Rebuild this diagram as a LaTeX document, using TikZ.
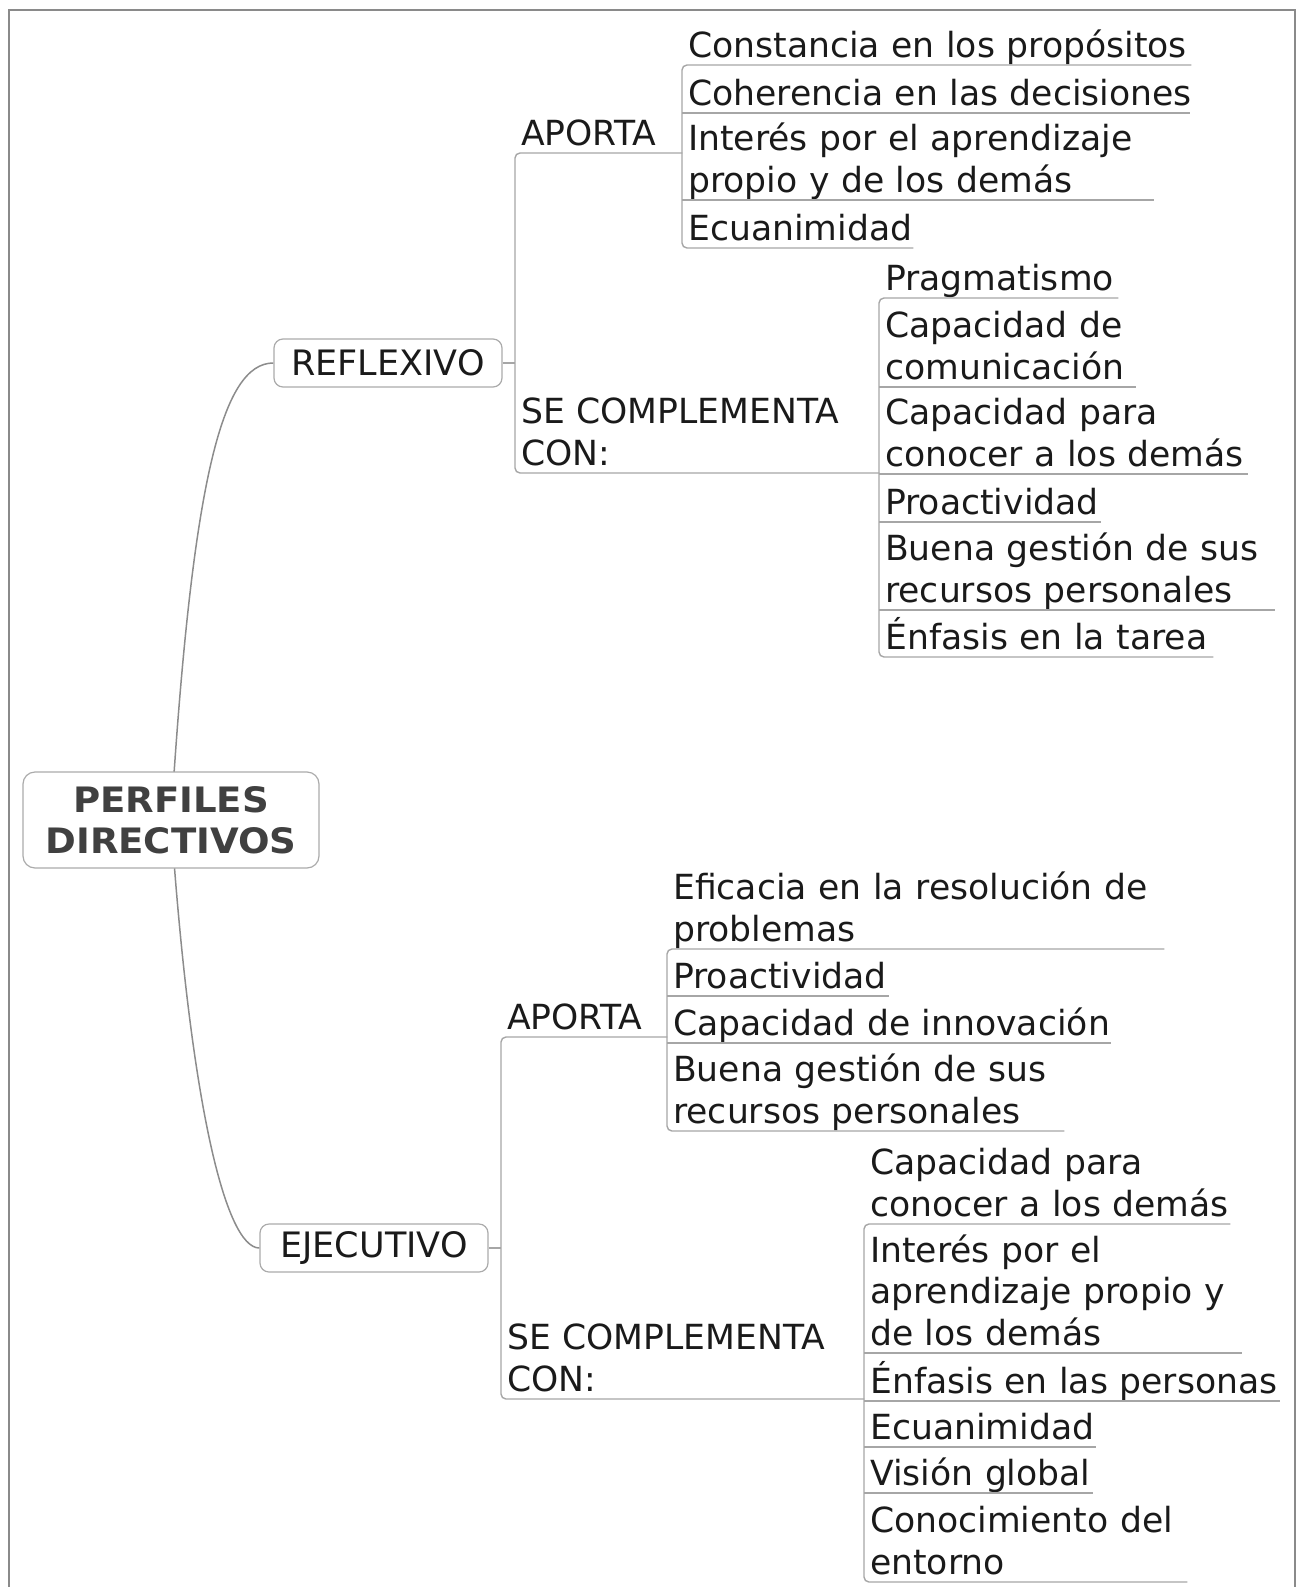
\documentclass[tikz,border=0pt]{standalone}
\usepackage{fontspec}
\setmainfont{DejaVu Sans}
\newfontfamily\rootfont[FakeStretch=1.06]{DejaVu Sans}
\usetikzlibrary{backgrounds}
\definecolor{ink}{HTML}{1A1A1A}
\definecolor{rootc}{HTML}{404040}
\definecolor{linec}{HTML}{A6A6A6}
\definecolor{curvec}{HTML}{8C8C8C}
\definecolor{boxc}{HTML}{ABABAB}
\definecolor{framec}{HTML}{8A8A8A}
\newcommand{\tline}[1]{\mbox{#1}}
\tikzset{
  topic/.style={anchor=south west, inner xsep=6pt, inner ysep=0pt, text depth=7.5pt,
    align=left, font=\fontsize{34.6}{41.5}\selectfont, text=ink},
  twolines/.style={text depth=49pt},
  threelines/.style={text depth=90.5pt},
  mbox/.style={draw=boxc, rounded corners=9pt, fill=white, line width=1.2pt,
    inner sep=0pt, align=center, font=\fontsize{35}{41.5}\selectfont, text=ink},
  conn/.style={draw=linec, line width=1.4pt},
  bracket/.style={conn, rounded corners=5pt},
  curve/.style={draw=curvec, line width=1.5pt},
  frameline/.style={draw=framec, line width=2pt}
}
\begin{document}
\begin{tikzpicture}[x=1pt, y=-1pt]
\useasboundingbox (0,0) rectangle (1302,1587);
\draw[frameline] (9,1587) -- (9,10) -- (1295,10) -- (1295,1587);

% central and main topics
\node[mbox, minimum width=296pt, minimum height=96pt, rounded corners=12pt,
      font=\rootfont\fontsize{35}{41.5}\selectfont\bfseries, text=rootc] (root) at (171,820) {PERFILES\\DIRECTIVOS};
\node[mbox, minimum width=228pt, minimum height=48pt] (refl) at (388,363) {\raisebox{-1.5pt}{REFLEXIVO}};
\node[mbox, minimum width=228pt, minimum height=48pt] (ejec) at (374,1248) {\raisebox{-1.5pt}{EJECUTIVO}};

% REFLEXIVO branch
\node[topic, text width=155pt] (rap) at (515,153) {\tline{APORTA}};
\node[topic, twolines, text width=352pt] (rse) at (515,473) {\tline{SE COMPLEMENTA}\\\tline{CON:}};
\node[topic, text width=497pt] (r1) at (682,65) {\tline{Constancia en los propósitos}};
\node[topic, text width=496pt] (r2) at (682,113) {\tline{Coherencia en las decisiones}};
\node[topic, twolines, text width=460pt] (r3) at (682,200) {\tline{Interés por el aprendizaje}\\\tline{propio y de los demás}};
\node[topic, text width=219pt] (r4) at (682,248) {\tline{Ecuanimidad}};
\node[topic, text width=227pt] (s1) at (879,298) {\tline{Pragmatismo}};
\node[topic, twolines, text width=245pt] (s2) at (879,387) {\tline{Capacidad de}\\\tline{comunicación}};
\node[topic, twolines, text width=357pt] (s3) at (879,474) {\tline{Capacidad para}\\\tline{conocer a los demás}};
\node[topic, text width=210pt] (s4) at (879,522) {\tline{Proactividad}};
\node[topic, twolines, text width=384pt] (s5) at (879,610) {\tline{Buena gestión de sus}\\\tline{recursos personales}};
\node[topic, text width=322pt] (s6) at (879,657) {\tline{Énfasis en la tarea}};

% EJECUTIVO branch
\node[topic, text width=154pt] (eap) at (501,1037) {\tline{APORTA}};
\node[topic, twolines, text width=351pt] (ese) at (501,1399) {\tline{SE COMPLEMENTA}\\\tline{CON:}};
\node[topic, twolines, text width=485pt] (e1) at (667,949) {\tline{Eficacia en la resolución de}\\\tline{problemas}};
\node[topic, text width=210pt] (e2) at (667,996) {\tline{Proactividad}};
\node[topic, text width=432pt] (e3) at (667,1043) {\tline{Capacidad de innovación}};
\node[topic, twolines, text width=385pt] (e4) at (667,1131) {\tline{Buena gestión de sus}\\\tline{recursos personales}};
\node[topic, twolines, text width=354pt] (f1) at (864,1224) {\tline{Capacidad para}\\\tline{conocer a los demás}};
\node[topic, threelines, text width=366pt] (f2) at (864,1353) {\tline{Interés por el}\\\tline{aprendizaje propio y}\\\tline{de los demás}};
\node[topic, text width=404pt] (f3) at (864,1401) {\tline{Énfasis en las personas}};
\node[topic, text width=220pt] (f4) at (864,1447) {\tline{Ecuanimidad}};
\node[topic, text width=217pt] (f5) at (864,1493) {\tline{Visión global}};
\node[topic, twolines, text width=311pt] (f6) at (864,1582) {\tline{Conocimiento del}\\\tline{entorno}};

% curves from the central topic
\begin{scope}[on background layer]
\draw[curve] (root.center) .. controls (192,480) and (222,363) .. (refl.west);
\draw[curve] (root.center) .. controls (190,1100) and (225,1248) .. (ejec.west);
\end{scope}

% REFLEXIVO connectors
\draw[conn] (refl.east) -- (refl.east -| rap.south west);
\draw[bracket] (rap.south east) -- (rap.south west) -- (rse.south west) -- (rse.south east);
\draw[bracket] (r1.south east) -- (r1.south west) -- (r4.south west) -- (r4.south east);
\draw[conn] (r2.south west) -- (r2.south east);
\draw[conn] (r3.south west) -- (r3.south east);
\draw[bracket] (s1.south east) -- (s1.south west) -- (s6.south west) -- (s6.south east);
\draw[conn] (s2.south west) -- (s2.south east);
\draw[conn] (s3.south west) -- (s3.south east);
\draw[conn] (s4.south west) -- (s4.south east);
\draw[conn] (s5.south west) -- (s5.south east);

% EJECUTIVO connectors
\draw[conn] (ejec.east) -- (ejec.east -| eap.south west);
\draw[bracket] (eap.south east) -- (eap.south west) -- (ese.south west) -- (ese.south east);
\draw[bracket] (e1.south east) -- (e1.south west) -- (e4.south west) -- (e4.south east);
\draw[conn] (e2.south west) -- (e2.south east);
\draw[conn] (e3.south west) -- (e3.south east);
\draw[bracket] (f1.south east) -- (f1.south west) -- (f6.south west) -- (f6.south east);
\draw[conn] (f2.south west) -- (f2.south east);
\draw[conn] (f3.south west) -- (f3.south east);
\draw[conn] (f4.south west) -- (f4.south east);
\draw[conn] (f5.south west) -- (f5.south east);
\end{tikzpicture}
\end{document}
